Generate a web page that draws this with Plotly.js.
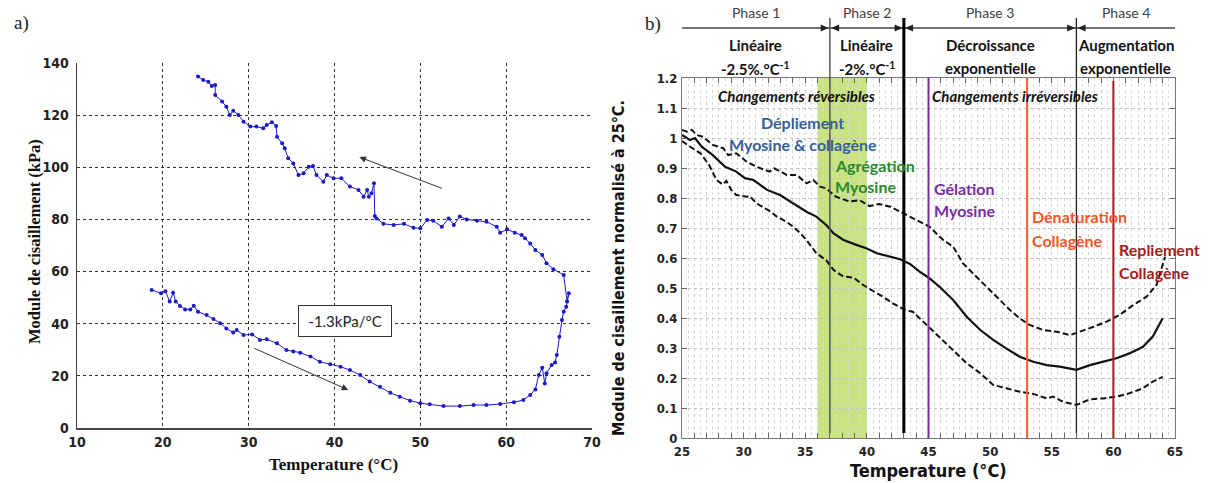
<!DOCTYPE html>
<html>
<head>
<meta charset="utf-8">
<script src="https://cdn.plot.ly/plotly-3.0.1.min.js"></script>
<style>html,body{margin:0;padding:0;background:#fff;}#chart{width:1216px;height:483px;}</style>
</head>
<body>
<div id="chart"></div>
<script>
// ---------- Panel a) : shear modulus (kPa) vs temperature, heating then cooling ----------
const aTemp = [18.7,19.8,20.3,20.8,21.2,21.5,22.0,22.6,23.2,23.6,24.1,25.1,25.9,26.7,27.4,28.2,28.6,29.4,30.4,31.3,32.1,33.3,34.4,35.2,36.0,37.2,38.3,39.5,40.7,41.8,43.0,44.1,45.3,46.5,47.6,48.8,50.0,51.1,52.7,54.6,56.2,57.7,59.3,60.9,62.0,62.8,63.4,63.8,64.2,64.5,64.7,65.3,65.7,65.9,66.2,66.5,66.7,67.0,67.3,67.1,66.7,
  65.5,64.7,64.2,63.4,62.8,62.2,61.8,61.0,60.1,59.3,58.9,57.7,56.6,55.4,54.6,53.9,53.3,52.5,51.5,50.8,50.0,49.2,48.1,46.9,45.7,44.9,44.7,44.6,44.3,44.0,43.8,43.4,42.8,41.8,40.8,39.9,39.1,38.7,37.9,37.5,37.0,36.4,35.8,35.2,34.6,34.2,33.9,33.3,33.2,32.7,32.1,31.7,30.9,30.2,29.4,28.8,28.2,27.8,27.4,26.9,26.1,26.1,25.7,25.3,24.7,24.1];
const aModulus = [52.9,51.7,52.5,48.5,51.9,48.5,46.8,45.5,45.5,46.9,44.6,43.3,41.8,40.2,38.2,36.6,37.6,35.7,35.9,33.8,34.0,32.5,29.9,29.3,28.9,27.4,25.4,24.5,23.5,22.2,20.3,17.8,15.8,13.5,12.0,10.5,9.5,9.1,8.4,8.4,8.8,8.8,9.2,9.9,10.7,12.7,14.8,20.3,23.1,17.1,21.0,24.2,25.1,28.0,35.0,41.4,44.6,46.5,51.7,48.5,58.7,
  60.9,63.2,66.4,68.3,70.8,72.8,74.0,74.9,76.2,74.9,77.2,79.1,79.5,80.0,81.1,77.9,80.4,77.2,79.5,79.8,76.6,76.8,78.3,77.9,78.3,80.4,81.3,93.9,90.0,88.7,91.3,88.7,91.3,92.6,95.8,95.8,97.0,94.5,97.0,100.5,100.2,97.7,97.0,101.5,103.5,107.3,109.2,111.7,115.8,117.3,116.2,115.0,115.6,115.6,117.5,120.1,121.7,120.1,123.2,125.2,127.7,131.6,131.2,132.8,133.5,134.8];
// direction arrows [tailT, tailV, headT, headV]
const aArrowCooling = [52.7, 91.7, 42.9, 103.9];
const aArrowHeating = [30.5, 30.8, 41.6, 14.6];
const aSlopeLabel = '-1.3kPa/°C';
const aSlopePos = [41.2, 41.2];

// ---------- Panel b) : normalised modulus vs temperature ----------
const bMeanTemp = [25,25.65,26.05,26.6,27.5,28.5,29.4,30.1,30.8,31.9,32.95,34.0,35.1,35.9,36.7,37.3,38.1,39.2,40.0,40.8,41.9,42.7,43.5,44.3,45.0,45.9,47.0,48.1,49.2,50.25,51.3,52.4,53.5,54.6,55.65,57.0,58.1,59.2,60.25,61.3,62.4,63.2,64.0];
const bMean = [1.01,0.993,1.0,0.971,0.943,0.904,0.888,0.866,0.86,0.827,0.81,0.782,0.754,0.738,0.71,0.682,0.66,0.643,0.632,0.616,0.604,0.596,0.58,0.554,0.535,0.504,0.46,0.404,0.36,0.327,0.299,0.271,0.254,0.243,0.238,0.227,0.243,0.254,0.266,0.282,0.304,0.338,0.399];
const bUpperTemp = [25,25.4,25.8,26.2,26.7,27.5,28.35,28.75,29.4,30.25,31.05,32.1,32.5,33.5,34.3,35.1,35.65,36.2,36.7,37.5,38.6,39.4,40.2,41.0,41.9,42.7,43.5,44.3,45.1,45.9,46.2,47.0,47.8,48.6,49.7,50.8,51.6,52.4,53.2,54.3,55.4,56.5,57.3,58.4,59.45,60.5,61.6,62.7,63.5,63.9,64.2];
const bUpper = [1.027,1.021,1.027,1.01,1.004,0.977,0.966,0.943,0.949,0.921,0.904,0.888,0.899,0.877,0.877,0.849,0.86,0.838,0.832,0.804,0.788,0.793,0.773,0.78,0.771,0.754,0.738,0.72,0.704,0.671,0.66,0.638,0.582,0.549,0.504,0.46,0.427,0.399,0.377,0.36,0.354,0.343,0.354,0.371,0.388,0.41,0.443,0.471,0.51,0.56,0.604];
const bLowerTemp = [25,25.5,26.5,27.2,27.8,28.3,28.6,29.0,29.4,30.25,30.5,31.05,32.1,32.7,33.5,34.0,34.6,35.1,35.9,36.7,37.3,38.1,38.9,39.7,40.5,41.3,42.1,42.95,43.75,44.85,45.9,47.0,48.1,49.2,50.25,51.3,52.4,53.5,54.6,55.1,55.9,57.0,58.1,59.2,60.25,61.3,62.4,63.2,64.0];
const bLower = [0.99,0.975,0.949,0.91,0.86,0.845,0.857,0.827,0.81,0.804,0.806,0.782,0.757,0.738,0.72,0.705,0.683,0.66,0.616,0.593,0.56,0.538,0.535,0.51,0.49,0.471,0.449,0.43,0.42,0.377,0.338,0.293,0.249,0.216,0.177,0.166,0.154,0.147,0.132,0.138,0.121,0.11,0.129,0.132,0.138,0.149,0.166,0.188,0.204];
const bTickLabels = [25,30,35,40,45,50,55,60,65];
const phaseBounds = [25,37,43,57,65];
const phaseNames = ['Phase 1','Phase 2','Phase 3','Phase 4'];
const phaseLine1 = ['Linéaire','Linéaire','Décroissance','Augmentation'];
const phaseLine2 = ['-2.5%.°C<sup>-1</sup>','-2%.°C<sup>-1</sup>','exponentielle','exponentielle'];
const aggregationBand = [36, 40];
const gelationT = 45, denaturationT = 53, refoldingT = 60;

// ---------- build ----------
const W = 1216, H = 483;
const px = v => v / W;             // pixel x -> paper
const py = v => 1 - v / H;         // pixel y (from top) -> paper

const narrow = "'DejaVu Sans Condensed', 'DejaVu Sans', sans-serif";
const serif = "'Liberation Serif', 'Times New Roman', serif";
const cal = "Lato, 'Open Sans', sans-serif";

const traces = [
  {x: aTemp, y: aModulus, xaxis: 'x', yaxis: 'y', type: 'scatter', mode: 'lines+markers',
   line: {color: '#1a1acc', width: 1}, marker: {color: '#1a1acc', size: 4}, hoverinfo: 'skip'},
  {x: bUpperTemp, y: bUpper, xaxis: 'x2', yaxis: 'y2', type: 'scatter', mode: 'lines',
   line: {color: '#111', width: 2, dash: '6px,3px'}},
  {x: bMeanTemp, y: bMean, xaxis: 'x2', yaxis: 'y2', type: 'scatter', mode: 'lines',
   line: {color: '#111', width: 2.2}},
  {x: bLowerTemp, y: bLower, xaxis: 'x2', yaxis: 'y2', type: 'scatter', mode: 'lines',
   line: {color: '#111', width: 2, dash: '6px,3px'}}
];

const bTickVals = [];
for (let t = bTickLabels[0]; t <= bTickLabels[bTickLabels.length - 1]; t += 1) bTickVals.push(t);
const bTickText = bTickVals.map(t => bTickLabels.includes(t) ? String(t) : '');

const shapes = [];
// green aggregation band
shapes.push({type: 'rect', xref: 'x2', yref: 'y2', x0: aggregationBand[0], x1: aggregationBand[1], y0: 0, y1: 1.2,
  fillcolor: 'rgb(190,222,104)', opacity: 0.85, line: {width: 0}, layer: 'below'});
// phase header horizontal line
const headerY = py(28);
shapes.push({type: 'line', xref: 'x2', yref: 'paper', x0: phaseBounds[0], x1: phaseBounds[4], y0: headerY, y1: headerY,
  line: {color: '#444', width: 1.3}});
// phase dividers
const dividerStyle = {37: {c: '#555', w: 1.5}, 43: {c: '#000', w: 3}, 57: {c: '#222', w: 1.3}};
[phaseBounds[1], phaseBounds[2], phaseBounds[3]].forEach(b => {
  shapes.push({type: 'line', xref: 'x2', yref: 'paper', x0: b, x1: b, y0: py(433), y1: py(18),
    line: {color: dividerStyle[b].c, width: dividerStyle[b].w}});
  const hw = 0.65, hh = 3.6 / H;
  shapes.push({type: 'path', xref: 'x2', yref: 'paper',
    path: `M ${b - 0.1 - hw} ${headerY + hh} L ${b - 0.1} ${headerY} L ${b - 0.1 - hw} ${headerY - hh} Z`,
    fillcolor: '#222', line: {width: 0}});
  shapes.push({type: 'path', xref: 'x2', yref: 'paper',
    path: `M ${b + 0.1 + hw} ${headerY + hh} L ${b + 0.1} ${headerY} L ${b + 0.1 + hw} ${headerY - hh} Z`,
    fillcolor: '#222', line: {width: 0}});
});
// event lines
[[gelationT, '#7a2c9e', 0, 1.2], [denaturationT, '#ff5a28', 0, 1.2], [refoldingT, '#9b1d1d', 0, 1.19]].forEach(e => {
  shapes.push({type: 'line', xref: 'x2', yref: 'y2', x0: e[0], x1: e[0], y0: e[2], y1: e[3],
    line: {color: e[1], width: 2}});
});

const annotations = [];
const pAnn = (x, y, text, font, extra) => Object.assign({xref: 'paper', yref: 'paper', x: px(x), y: py(y), text: text,
  showarrow: false, xanchor: 'center', yanchor: 'middle', font: font}, extra || {});
// panel letters
annotations.push(pAnn(21, 23, 'a)', {family: serif, size: 19, color: '#222'}));
annotations.push(pAnn(653, 24, 'b)', {family: serif, size: 19, color: '#222'}));
// axis titles panel a
annotations.push(pAnn(34, 242, 'Module de cisaillement (kPa)', {family: serif, size: 16.5, color: '#111', weight: 'bold'}, {textangle: -90}));
annotations.push(pAnn(333, 464, 'Temperature (°C)', {family: serif, size: 17, color: '#111', weight: 'bold'}));
// axis titles panel b
annotations.push(pAnn(618, 268, 'Module de cisaillement normalisé à 25°C.', {family: narrow, size: 16, color: '#111', weight: 'bold'}, {textangle: -90}));
annotations.push(pAnn(928, 470, 'Temperature (°C)', {family: narrow, size: 18, color: '#111', weight: 'bold'}));
// panel a arrows and slope label
[aArrowCooling, aArrowHeating].forEach(a => {
  annotations.push({xref: 'x', yref: 'y', axref: 'x', ayref: 'y', x: a[2], y: a[3], ax: a[0], ay: a[1], text: '',
    showarrow: true, arrowhead: 2, arrowsize: 1.3, arrowwidth: 1, arrowcolor: '#333'});
});
annotations.push({xref: 'x', yref: 'y', x: aSlopePos[0], y: aSlopePos[1], text: aSlopeLabel, showarrow: false,
  xanchor: 'center', yanchor: 'middle',
  width: 86, height: 24, borderpad: 3, bordercolor: '#333', borderwidth: 1, bgcolor: '#fff',
  font: {family: cal, size: 15, color: '#222'}});
// phase header texts
for (let i = 0; i < 4; i++) {
  const mid = (phaseBounds[i] + phaseBounds[i + 1]) / 2;
  const base = {xref: 'x2', yref: 'paper', x: mid, showarrow: false, xanchor: 'center', yanchor: 'middle'};
  annotations.push(Object.assign({}, base, {y: py(13), text: phaseNames[i], font: {family: cal, size: 14, color: '#404040'}}));
  annotations.push(Object.assign({}, base, {y: py(45), text: phaseLine1[i], font: {family: cal, size: 15, color: '#111', weight: 'bold'}}));
  annotations.push(Object.assign({}, base, {y: py(68), text: phaseLine2[i], font: {family: cal, size: 15, color: '#111', weight: 'bold'}}));
}
// in-plot texts
const inPlot = [
  [34.3, 1.14, 'Changements réversibles', '#111', 'center', 'italic'],
  [52.0, 1.14, 'Changements irréversibles', '#111', 'center', 'italic'],
  [34.8, 1.05, 'Dépliement', '#36609a', 'center', 'normal'],
  [34.8, 0.977, 'Myosine &amp; collagène', '#36609a', 'center', 'normal'],
  [37.25, 0.91, 'Agrégation', '#2a8a2a', 'left', 'normal'],
  [37.25, 0.837, 'Myosine', '#2a8a2a', 'left', 'normal'],
  [45.3, 0.833, 'Gélation', '#7a2c9e', 'left', 'normal'],
  [45.3, 0.76, 'Myosine', '#7a2c9e', 'left', 'normal'],
  [53.2, 0.737, 'Dénaturation', '#f0562a', 'left', 'normal'],
  [53.2, 0.66, 'Collagène', '#f0562a', 'left', 'normal'],
  [60.3, 0.627, 'Repliement', '#a01e1e', 'left', 'normal'],
  [60.3, 0.553, 'Collagène', '#a01e1e', 'left', 'normal']
];
inPlot.forEach(t => {
  annotations.push({xref: 'x2', yref: 'y2', x: t[0], y: t[1], text: t[2], showarrow: false, xanchor: t[4], yanchor: 'middle',
    font: {family: cal, size: t[5] === 'italic' ? 15 : 16, color: t[3], weight: 'bold', style: t[5]}});
});

const layout = {
  width: W, height: H, margin: {l: 0, r: 0, t: 0, b: 0},
  paper_bgcolor: '#fff', plot_bgcolor: '#fff', showlegend: false,
  xaxis: {domain: [px(77), px(592)], anchor: 'y', range: [10, 70], dtick: 10, tick0: 10,
    showline: true, linecolor: '#444', linewidth: 1.5, zeroline: false,
    showgrid: true, gridcolor: '#333', gridwidth: 1, griddash: '3px,3px',
    ticks: '', ticklabelstandoff: 1, tickfont: {family: narrow, size: 14, color: '#222', weight: 'bold'}},
  yaxis: {domain: [py(428), py(63)], anchor: 'x', range: [0, 140], dtick: 20, tick0: 0,
    showline: true, linecolor: '#444', linewidth: 1.5, zeroline: false,
    showgrid: true, gridcolor: '#333', gridwidth: 1, griddash: '3px,3px',
    ticks: '', ticklabelstandoff: 4, tickfont: {family: narrow, size: 14, color: '#222', weight: 'bold'}},
  xaxis2: {domain: [px(682), px(1175)], anchor: 'y2', range: [25, 65], tickmode: 'array',
    tickvals: bTickVals, ticktext: bTickText, ticks: 'inside', ticklen: 5, tickcolor: '#666',
    showline: true, mirror: 'ticks', linecolor: '#777', linewidth: 1, zeroline: false,
    showgrid: true, gridcolor: '#cfcfcf', griddash: 'dot', gridwidth: 1,
    minor: {dtick: 0.5, tick0: 25, showgrid: true, gridcolor: '#dadada', griddash: 'dot', ticks: ''},
    ticklabelstandoff: 1, tickfont: {family: narrow, size: 13, color: '#222', weight: 'bold'}},
  yaxis2: {domain: [py(438), py(78)], anchor: 'x2', range: [0, 1.2], dtick: 0.1, tick0: 0,
    ticks: 'inside', ticklen: 5, tickcolor: '#666',
    showline: true, mirror: 'ticks', linecolor: '#777', linewidth: 1, zeroline: false,
    showgrid: true, gridcolor: '#c4c4c4', griddash: 'dot', gridwidth: 1,
    ticklabelstandoff: 1, tickfont: {family: narrow, size: 13, color: '#222', weight: 'bold'}},
  shapes: shapes,
  annotations: annotations
};

Plotly.newPlot('chart', traces, layout, {staticPlot: true, displayModeBar: false});
</script>
</body>
</html>
